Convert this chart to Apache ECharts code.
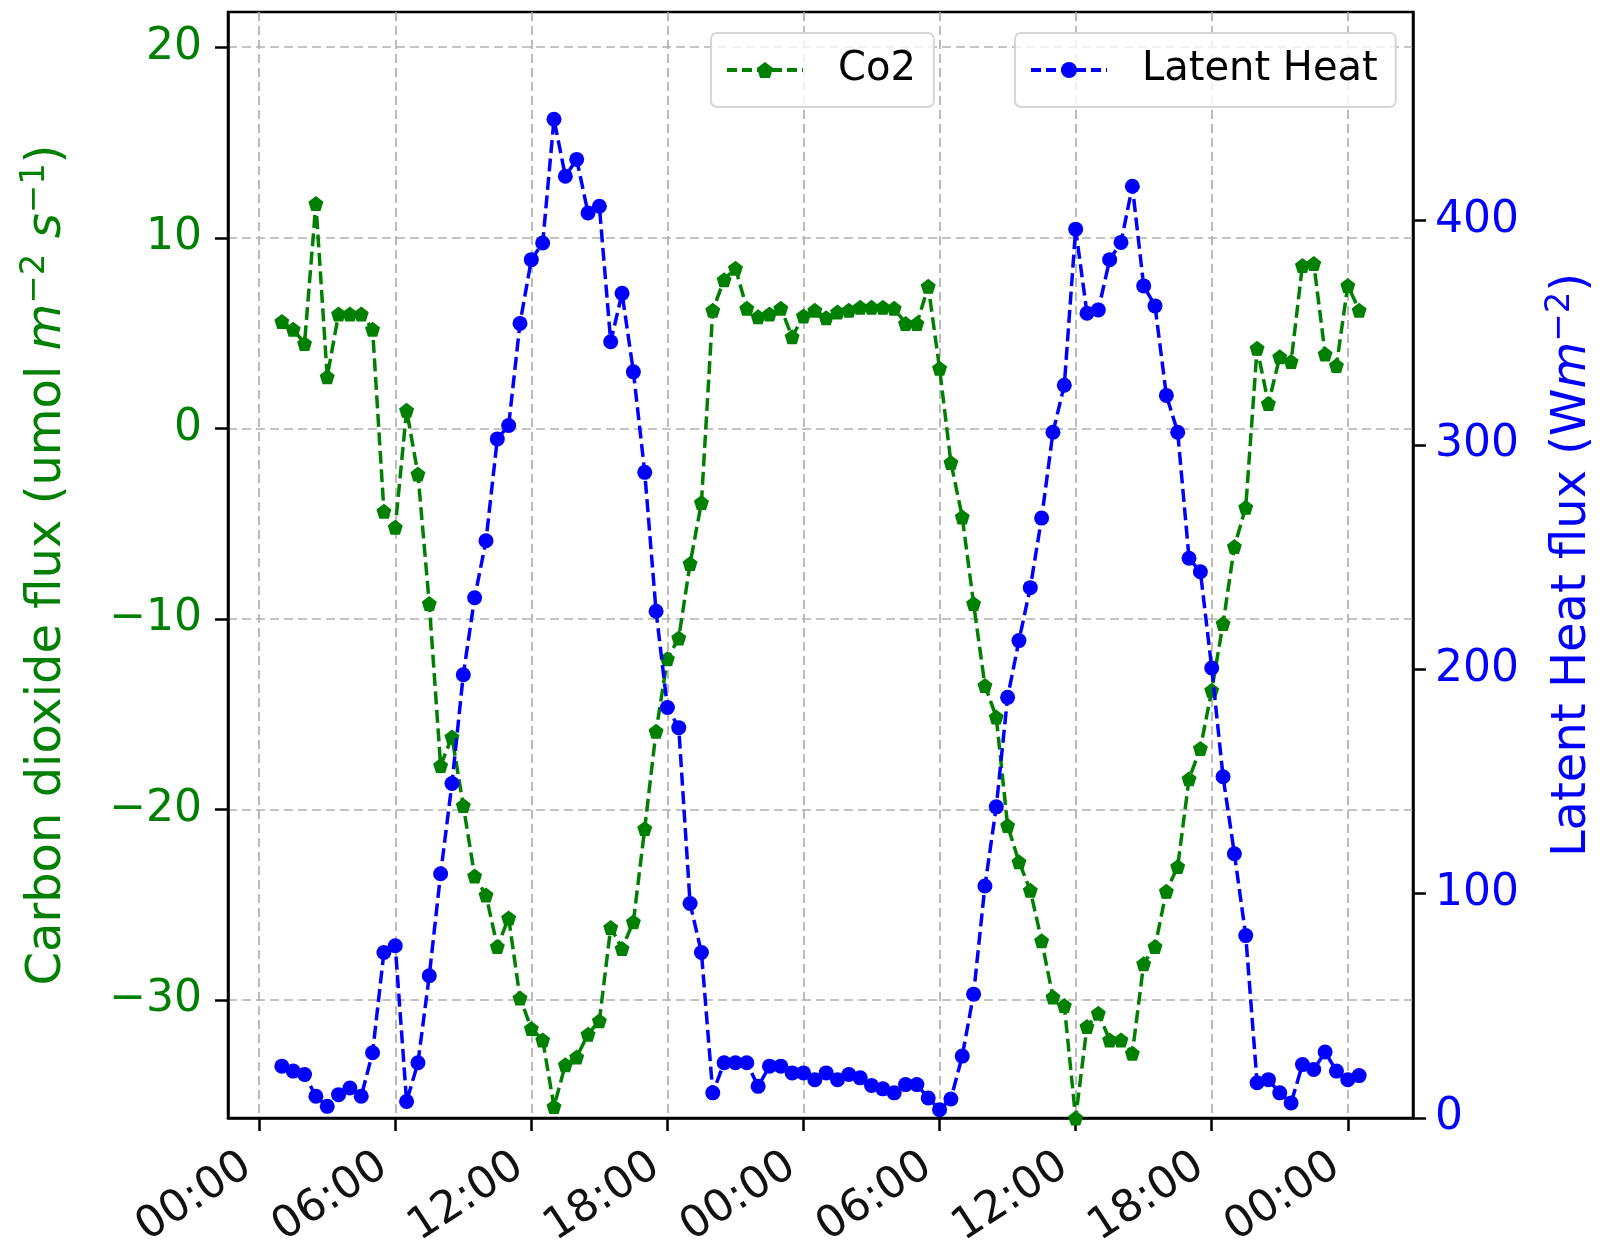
<!DOCTYPE html>
<html><head><meta charset="utf-8">
<script src="https://cdn.jsdelivr.net/npm/echarts@6/dist/echarts.min.js"></script>
<style>html,body{margin:0;padding:0;background:#fff}#c{width:1611px;height:1243px}</style>
</head><body><div id="c"></div>
<script>
// time in hours since first midnight (30-min samples)
const hours = [1,1.5,2,2.5,3,3.5,4,4.5,5,5.5,6,6.5,7,7.5,8,8.5,9,9.5,10,10.5,11,11.5,12,12.5,
  13,13.5,14,14.5,15,15.5,16,16.5,17,17.5,18,18.5,19,19.5,20,20.5,21,21.5,22,22.5,23,23.5,24,24.5,
  25,25.5,26,26.5,27,27.5,28,28.5,29,29.5,30,30.5,31,31.5,32,32.5,33,33.5,34,34.5,35,35.5,36,36.5,
  37,37.5,38,38.5,39,39.5,40,40.5,41,41.5,42,42.5,43,43.5,44,44.5,45,45.5,46,46.5,47,47.5,48,48.5];

const co2Flux = [5.6,5.2,4.45,11.8,2.7,6.0,6.0,6.0,5.2,-4.35,-5.2,0.95,-2.4,-9.2,-17.7,-16.2,
  -19.8,-23.5,-24.5,-27.2,-25.7,-29.9,-31.5,-32.1,-35.6,-33.4,-33.0,-31.8,-31.1,-26.2,-27.3,-25.9,
  -21.0,-15.9,-12.1,-11.0,-7.1,-3.9,6.2,7.8,8.4,6.3,5.85,6.0,6.3,4.8,5.9,6.2,
  5.8,6.1,6.2,6.35,6.35,6.35,6.3,5.5,5.5,7.45,3.15,-1.8,-4.65,-9.2,-13.5,-15.15,
  -20.85,-22.75,-24.25,-26.9,-29.85,-30.3,-36.2,-31.4,-30.7,-32.1,-32.1,-32.8,-28.1,-27.2,-24.3,-23.0,
  -18.4,-16.8,-13.75,-10.25,-6.2,-4.15,4.2,1.3,3.75,3.5,8.55,8.65,3.9,3.3,7.5,6.2];

const latentHeat = [23.1,20.9,19.4,9.7,5.2,10.4,13.4,9.7,29.1,73.8,76.8,7.4,24.6,63.4,108.9,149.1,
  197.6,231.9,257.3,302.7,308.7,354.2,382.6,390.0,445.2,419.8,427.3,403.4,406.4,346.0,367.6,332.6,
  287.8,225.9,183.0,174.0,95.6,73.8,11.2,24.6,24.6,24.6,14.1,23.1,23.1,20.1,20.1,17.1,
  20.1,17.1,19.4,17.9,14.5,13.0,11.2,14.9,14.9,8.9,3.7,8.5,27.6,55.2,103.4,138.7,
  187.5,212.8,236.4,267.4,305.7,326.6,396.2,358.7,360.2,382.6,390.3,415.3,370.9,362.0,322.1,305.7,
  249.5,243.5,200.6,152.1,117.8,81.3,15.7,17.1,11.2,6.7,23.8,21.6,29.4,20.9,17.1,18.9];

const xTicks = [0,6,12,18,24,30,36,42,48];
const co2Ticks = [-30,-20,-10,0,10,20];
const leTicks = [0,100,200,300,400];
const seriesNames = ['Co2', 'Latent Heat'];

const FONT = 'DejaVu Sans';
const GREEN = '#008000', BLUE = '#0000ff';
const pentagon = 'path://M0,-10L9.51,-3.09L5.88,8.09L-5.88,8.09L-9.51,-3.09Z';
const gridLine = {show: true, lineStyle: {color: '#b0b0b0', width: 1.7, type: [9, 5]}};
const tickStyle = {show: true, inside: false, length: 13, lineStyle: {color: '#000', width: 2.5}};

const chart = echarts.init(document.getElementById('c'), null, {renderer: 'canvas'});
const legendBase = {
  orient: 'horizontal', top: 33, padding: [17, 18, 17, 14],
  itemWidth: 76, itemHeight: 20, borderColor: '#d6d6d6', borderWidth: 2, borderRadius: 6,
  backgroundColor: 'rgba(255,255,255,0.8)',
  textStyle: {fontFamily: FONT, fontSize: 40, color: '#000', padding: [0, 0, 0, 30]}
};
chart.setOption({
  animation: false,
  textStyle: {fontFamily: FONT},
  grid: {left: 228, right: 198, top: 12, bottom: 125, containLabel: false, outerBoundsMode: 'none',
    show: true, borderColor: '#000', borderWidth: 2.5, backgroundColor: 'transparent'},
  legend: [
    Object.assign({}, legendBase, {left: 711, data: [seriesNames[0]],
      lineStyle: {color: GREEN, width: 4, type: [10, 5]}, itemStyle: {color: GREEN}}),
    Object.assign({}, legendBase, {left: 1015, data: [seriesNames[1]],
      lineStyle: {color: BLUE, width: 4, type: [10, 5]}, itemStyle: {color: BLUE}})
  ],
  xAxis: {
    type: 'value', min: -1.375, max: 50.875,
    axisLine: {show: true, onZero: false, lineStyle: {color: '#000', width: 2.5}},
    axisTick: Object.assign({customValues: xTicks}, tickStyle),
    axisLabel: {customValues: xTicks, rotate: 33, margin: 37, fontSize: 44, color: '#111', fontFamily: FONT,
      padding: [0, 14, 12, 0],
      formatter: v => String(((v % 24) + 24) % 24).padStart(2, '0') + ':00'},
    splitLine: gridLine
  },
  yAxis: [
    {
      type: 'value', position: 'left', min: -36.2, max: 21.85,
      axisLine: {show: true, onZero: false, lineStyle: {color: '#000', width: 2.5}},
      axisTick: Object.assign({customValues: co2Ticks}, tickStyle),
      axisLabel: {customValues: co2Ticks, margin: 26, fontSize: 44, color: GREEN, fontFamily: FONT,
        formatter: v => v < 0 ? '\u2212' + Math.abs(v) : String(v)},
      splitLine: gridLine,
      name: '{n|Carbon dioxide flux (umol }{i|m}{s|\u22122}{n| }{i|s}{s|\u22121}{n|)}',
      nameLocation: 'middle', nameRotate: 90, nameGap: 150,
      nameTextStyle: {color: GREEN, fontSize: 48, fontFamily: FONT, rich: {
        n: {fontSize: 48, color: GREEN, fontFamily: FONT},
        i: {fontSize: 48, color: GREEN, fontFamily: FONT, fontStyle: 'italic'},
        s: {fontSize: 34, color: GREEN, fontFamily: FONT, padding: [0, 0, 26, 0]}
      }}
    },
    {
      type: 'value', position: 'right', min: 0, max: 493,
      axisLine: {show: true, onZero: false, lineStyle: {color: '#000', width: 2.5}},
      axisTick: Object.assign({customValues: leTicks}, tickStyle),
      axisLabel: {customValues: leTicks, margin: 22, fontSize: 44, color: BLUE, fontFamily: FONT},
      splitLine: {show: false},
      name: '{n|Latent Heat flux (W}{i|m}{s|\u22122}{n|)}',
      nameLocation: 'middle', nameRotate: 90, nameGap: 130,
      nameTextStyle: {color: BLUE, fontSize: 48, fontFamily: FONT, rich: {
        n: {fontSize: 48, color: BLUE, fontFamily: FONT},
        i: {fontSize: 48, color: BLUE, fontFamily: FONT, fontStyle: 'italic'},
        s: {fontSize: 34, color: BLUE, fontFamily: FONT, padding: [0, 0, 26, 0]}
      }}
    }
  ],
  series: [
    {
      name: seriesNames[0], type: 'line', yAxisIndex: 0,
      data: hours.map((h, i) => [h, co2Flux[i]]),
      symbol: pentagon, symbolSize: 15, showAllSymbol: true,
      lineStyle: {color: GREEN, width: 3.5, type: [13, 5.5]},
      itemStyle: {color: GREEN}, z: 2
    },
    {
      name: seriesNames[1], type: 'line', yAxisIndex: 1,
      data: hours.map((h, i) => [h, latentHeat[i]]),
      symbol: 'circle', symbolSize: 15, showAllSymbol: true,
      lineStyle: {color: BLUE, width: 3.5, type: [13, 5.5]},
      itemStyle: {color: BLUE}, z: 3
    }
  ]
});
</script></body></html>
